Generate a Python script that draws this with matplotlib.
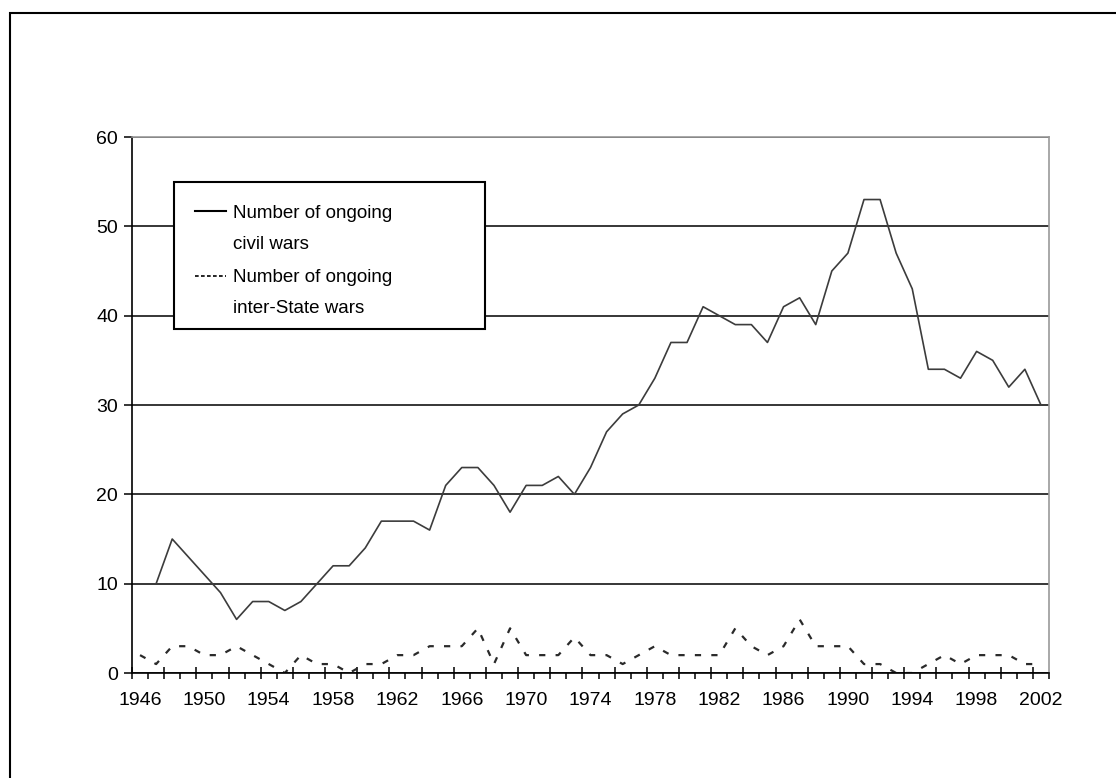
import numpy as np
import matplotlib.pyplot as plt
from matplotlib.lines import Line2D
from matplotlib.patches import Rectangle

plt.rcParams['font.family'] = ['Liberation Sans', 'DejaVu Sans']

# data, one value per year 1946-2002
years = np.arange(1946, 2003)
civil_wars = [np.nan, 10, 15, 13, 11, 9, 6, 8, 8, 7,
              8, 10, 12, 12, 14, 17, 17, 17, 16, 21,
              23, 23, 21, 18, 21, 21, 22, 20, 23, 27,
              29, 30, 33, 37, 37, 41, 40, 39, 39, 37,
              41, 42, 39, 45, 47, 53, 53, 47, 43, 34,
              34, 33, 36, 35, 32, 34, 30]
interstate_wars = [2, 1, 3, 3, 2, 2, 3, 2, 1, 0,
                   2, 1, 1, 0, 1, 1, 2, 2, 3, 3,
                   3, 5, 1, 5, 2, 2, 2, 4, 2, 2,
                   1, 2, 3, 2, 2, 2, 2, 5, 3, 2,
                   3, 6, 3, 3, 3, 1, 1, 0, 0, 1,
                   2, 1, 2, 2, 2, 1, 1]
year_labels = np.arange(1946, 2003, 4)
y_ticks = [0, 10, 20, 30, 40, 50, 60]
legend_labels = [('Number of ongoing', 'civil wars'),
                 ('Number of ongoing', 'inter-State wars')]

W, H = 1116, 778
fig = plt.figure(figsize=(W / 100, H / 100), dpi=100)
ax = fig.add_axes([132 / W, 1 - 673 / H, (1049 - 132) / W, (673 - 137) / H])

ax.plot(years, np.array(civil_wars, dtype=float), color='#3c3c3c', lw=1.2)
ax.plot(years, interstate_wars, color='#2a2a2a', lw=1.6,
        linestyle=(0, (2.8, 4.6)))

ax.set_xlim(1945.5, 2002.5)
ax.set_ylim(0, 60)

# gridlines and frame of the plot area
ax.set_yticks(y_ticks)
ax.yaxis.grid(True, color='black', lw=1.1)
ax.set_axisbelow(True)
for s in ['left', 'bottom']:
    ax.spines[s].set_color('black')
    ax.spines[s].set_linewidth(1.2)
for s in ['top', 'right']:
    ax.spines[s].set_color('#999999')
    ax.spines[s].set_linewidth(1.2)
ax.tick_params(axis='y', direction='out', length=6, width=1.1,
               labelsize=14, pad=4, colors='black')

# tick marks between categories: long ones every 2 years, short ones in between
bounds = np.arange(1945.5, 2003.0, 1.0)
ax.set_xticks(bounds[::2])
ax.set_xticks(bounds[1::2], minor=True)
ax.tick_params(axis='x', which='major', direction='inout', length=9,
               width=1.1, labelbottom=False)
ax.tick_params(axis='x', which='minor', direction='out', length=4,
               width=1.1, labelbottom=False)

# year labels centred on the categories
sec = ax.secondary_xaxis('bottom')
sec.set_xticks(year_labels)
sec.tick_params(length=0, pad=14, labelsize=14)
sec.spines['bottom'].set_visible(False)

# legend box drawn by hand to keep the two-line labels
px = lambda x, y: (x / W, 1 - y / H)
fig.patches.append(Rectangle(px(174, 329), 311 / W, 147 / H,
                             transform=fig.transFigure, facecolor='white',
                             edgecolor='black', lw=1.5, zorder=5))
styles = [dict(color='black', lw=1.5),
          dict(color='black', lw=1.2, linestyle=(0, (2.2, 1.4)))]
rows = [(211, 218, 249), (276, 282, 313)]
for (first, second), st, (ly, b1, b2) in zip(legend_labels, styles, rows):
    x0, y0 = px(195, ly)
    x1, _ = px(226, ly)
    fig.add_artist(Line2D([x0, x1], [y0, y0], transform=fig.transFigure,
                          zorder=6, **st))
    fig.text(*px(233, b1), first, fontsize=13.5, va='baseline', zorder=6)
    fig.text(*px(233, b2), second, fontsize=13.5, va='baseline', zorder=6)

# outer border of the chart object
fig.patches.append(Rectangle(px(10, 790), 1120 / W, 777 / H,
                             transform=fig.transFigure, fill=False,
                             edgecolor='black', lw=1.5))

fig.savefig('out.png', dpi=100)
